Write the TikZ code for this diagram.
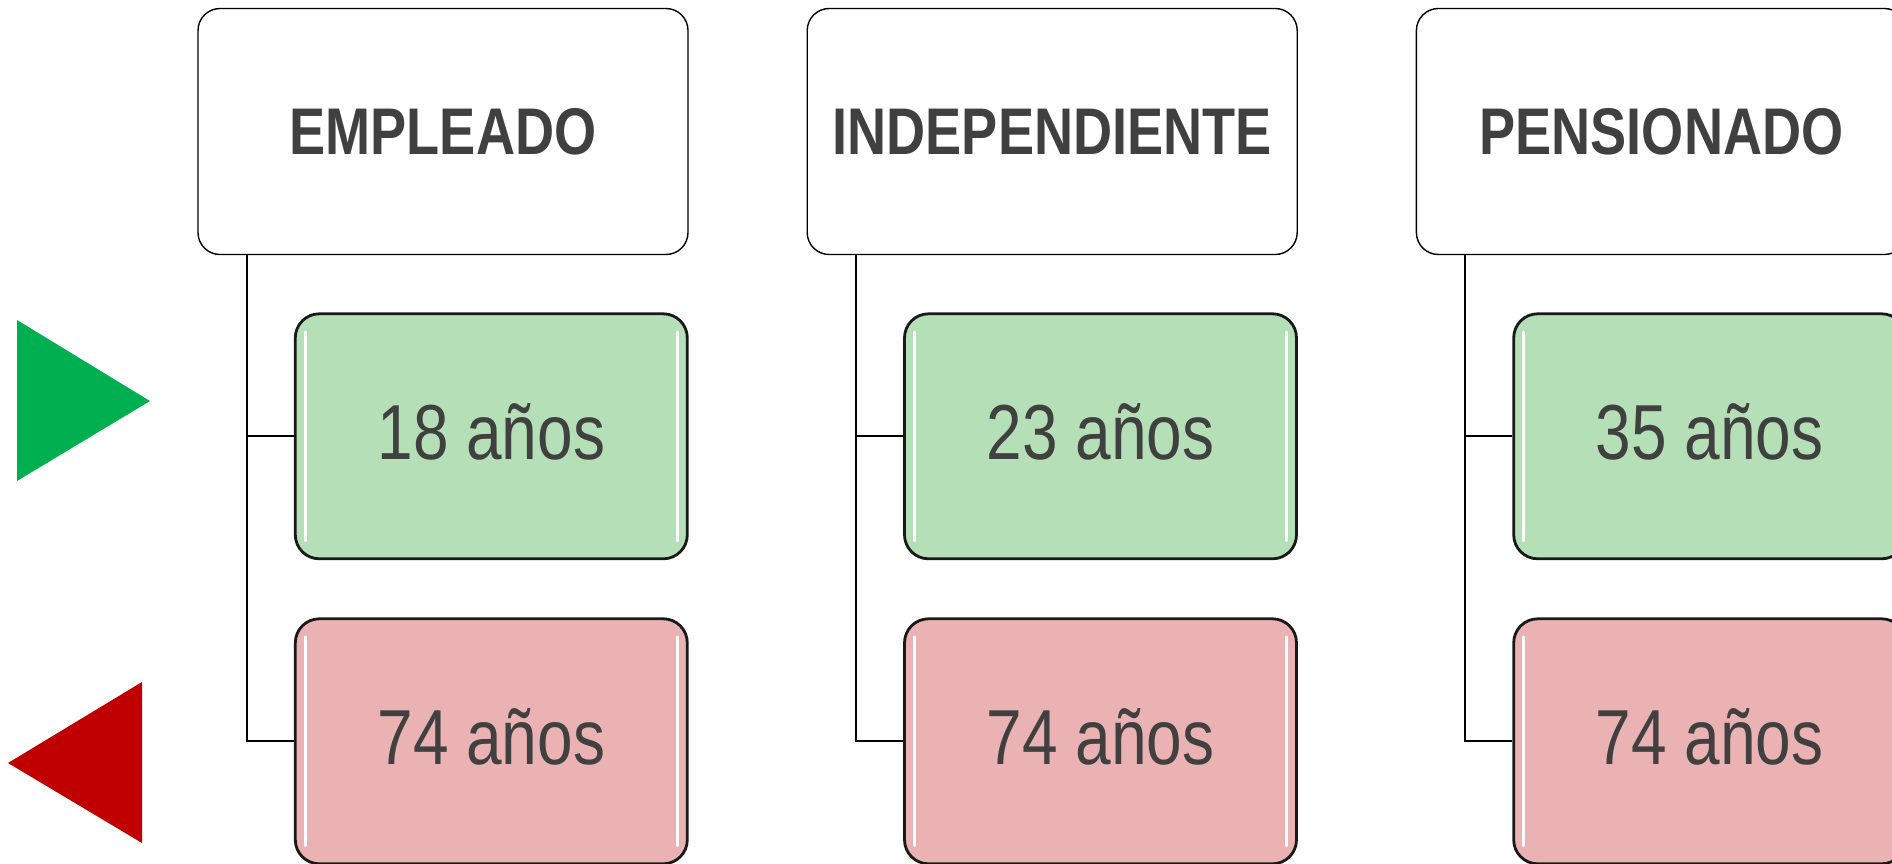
\documentclass[tikz,border=0pt]{standalone}
\usepackage{fontspec}
\newfontfamily\narrowsans[FakeStretch=0.82]{Liberation Sans}
\usetikzlibrary{positioning}
\definecolor{txtgray}{HTML}{404040}
\definecolor{agegreen}{HTML}{B5DFB6}
\definecolor{agered}{HTML}{EAB2B3}
\definecolor{upgreen}{HTML}{00B050}
\definecolor{downred}{HTML}{C00000}
\tikzset{
  header/.style={draw=black, line width=0.7pt, fill=white, rounded corners=11pt,
    minimum width=245pt, minimum height=123pt, inner sep=0pt, text=txtgray,
    font=\narrowsans\bfseries\fontsize{33}{33}\selectfont},
  agebox/.style={draw=black!90, line width=1.4pt, rounded corners=12pt,
    minimum width=196pt, minimum height=122.5pt, inner sep=0pt, text=txtgray,
    text depth=5pt, font=\narrowsans\fontsize{39}{39}\selectfont,
    path picture={
      \draw[white, line width=1.3pt, line cap=round]
        ([xshift=5pt,yshift=-9pt]path picture bounding box.north west) --
        ([xshift=5pt,yshift=9pt]path picture bounding box.south west);
      \draw[white, line width=1.3pt, line cap=round]
        ([xshift=-5pt,yshift=-9pt]path picture bounding box.north east) --
        ([xshift=-5pt,yshift=9pt]path picture bounding box.south east);
    }},
  tree/.style={line width=0.9pt},
}
\begin{document}
\begin{tikzpicture}[x=0.5pt, y=-0.5pt, node distance=28.6pt]
    \useasboundingbox (0,0) rectangle (1892,863);

    % up / down markers
    \fill[upgreen] (17,320) -- (17,481) -- (150,401) -- cycle;
    \fill[downred] (142,682) -- (142,843) -- (8,763) -- cycle;

    \node[header] (emp) at (443,131.5) {EMPLEADO};
    \node[header, right=58.9pt of emp] (ind) {INDEPENDIENTE};
    \node[header, right=58.9pt of ind] (pen) {PENSIONADO};

    \node[agebox, fill=agegreen, below=of emp.south east, anchor=north east] (empmin) {18 años};
    \node[agebox, fill=agered, below=of empmin] (empmax) {74 años};
    \node[agebox, fill=agegreen, below=of ind.south east, anchor=north east] (indmin) {23 años};
    \node[agebox, fill=agered, below=of indmin] (indmax) {74 años};
    \node[agebox, fill=agegreen, below=of pen.south east, anchor=north east] (penmin) {35 años};
    \node[agebox, fill=agered, below=of penmin] (penmax) {74 años};

    \coordinate (empt) at ([xshift=24.7pt]emp.south west);
    \coordinate (indt) at ([xshift=24.7pt]ind.south west);
    \coordinate (pent) at ([xshift=24.7pt]pen.south west);

    \draw[tree] (empt) |- (empmin.west);
    \draw[tree] (empt) |- (empmax.west);
    \draw[tree] (indt) |- (indmin.west);
    \draw[tree] (indt) |- (indmax.west);
    \draw[tree] (pent) |- (penmin.west);
    \draw[tree] (pent) |- (penmax.west);

\end{tikzpicture}
\end{document}
